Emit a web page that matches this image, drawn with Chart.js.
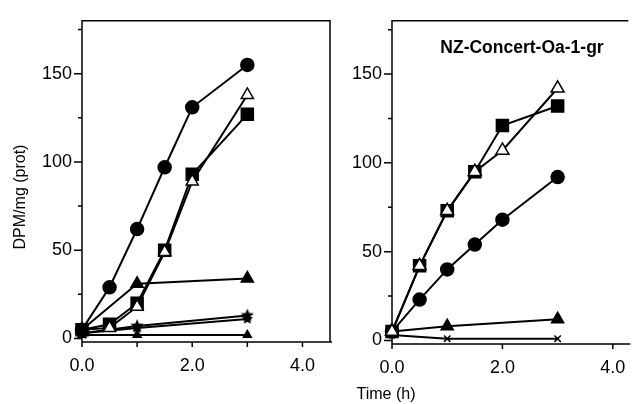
<!DOCTYPE html>
<html>
<head>
<meta charset="utf-8">
<script src="https://cdn.jsdelivr.net/npm/chart.js@4"></script>
<style>
  body { margin: 0; background: #fff; }
  #wrap { position: relative; width: 639px; height: 404px; overflow: hidden; background: #fff; }
  canvas { position: absolute; top: 0; }
  #leftChart { left: 0; }
  #rightChart { left: 340px; }
  .lbl { position: absolute; font-family: "Liberation Sans", Arial, sans-serif; color: #000; white-space: nowrap; }
  #yTitle { left: -80px; top: 187px; width: 200px; height: 20px; line-height: 20px; text-align: center; font-size: 16px; transform: rotate(-90deg); }
  #xTitle { left: 326px; top: 385px; width: 120px; text-align: center; font-size: 16px; }
  #panelTitle { left: 422px; top: 37px; width: 200px; text-align: center; font-size: 17.5px; font-weight: bold; }
</style>
</head>
<body>
<div id="wrap">
  <canvas id="leftChart" width="340" height="404"></canvas>
  <canvas id="rightChart" width="299" height="404"></canvas>
  <div class="lbl" id="yTitle">DPM/mg (prot)</div>
  <div class="lbl" id="xTitle">Time (h)</div>
  <div class="lbl" id="panelTitle">NZ-Concert-Oa-1-gr</div>
</div>
<script>
// sampling times (h)
const timesFull = [0, 0.5, 1, 1.5, 2, 3];
const timesShort = [0, 1, 3];

// left panel series
const leftCircle = [5, 29, 62, 97, 131, 155];
const leftOpenTri = [5, 6, 18, 49, 89, 138];
const leftSquare = [5, 8, 20, 50, 93, 127];
const leftTri = [5, 31, 34];
const leftStarA = [3, 7, 13];
const leftStarB = [3, 6, 11];
const leftSmallTri = [2, 2, 2];

// right panel series (NZ-Concert-Oa-1-gr)
const rightSquare = [5, 42, 73, 95, 121, 132];
const rightOpenTri = [5, 42, 73, 95, 107, 142];
const rightCircle = [5, 23, 40, 54, 68, 92];
const rightTri = [5, 8, 12];
const rightCross = [3, 1, 1];

// axis ticks
const yLabelTicks = [0, 50, 100, 150];
const yMinorTicks = [25, 75, 125, 175];
const xLabelTicks = [0, 2, 4];
const leftXMarks = [0, 1, 2, 3, 4];
const rightXMarks = [0, 2, 4];

const tickFont = { family: "Liberation Sans, Arial, sans-serif", size: 18 };

// filled 5-point star as point image
function starImage(r) {
  const s = Math.ceil(r * 2 + 2);
  const c = document.createElement("canvas");
  c.width = c.height = s;
  const g = c.getContext("2d");
  g.beginPath();
  for (let i = 0; i < 10; i++) {
    const a = -Math.PI / 2 + i * Math.PI / 5;
    const rr = i % 2 ? r * 0.45 : r;
    g.lineTo(s / 2 + rr * Math.cos(a), s / 2 + rr * Math.sin(a));
  }
  g.closePath();
  g.fillStyle = "#000";
  g.fill();
  return c;
}

function series(xs, ys, style, radius, fill) {
  return {
    data: xs.map((x, i) => ({ x: x, y: ys[i] })),
    borderColor: "#000",
    borderWidth: 2,
    tension: 0,
    fill: false,
    clip: false,
    pointStyle: style,
    pointRadius: radius,
    pointBackgroundColor: fill,
    pointBorderColor: "#000",
    pointBorderWidth: 1.5
  };
}

// draws axis lines, box edges and tick marks
const framePlugin = {
  id: "frame",
  beforeDatasetsDraw(chart, args, opts) {
    const { ctx, chartArea: a, scales } = chart;
    const x = scales.x, y = scales.y;
    ctx.save();
    ctx.strokeStyle = "#000";
    ctx.lineWidth = 1.5;
    ctx.beginPath();
    ctx.moveTo(a.left, a.bottom);
    ctx.lineTo(a.left, a.top);
    ctx.lineTo(a.right, a.top);
    if (opts.rightEdge) ctx.lineTo(a.right, a.bottom);
    ctx.moveTo(a.left, a.bottom);
    ctx.lineTo(a.right + 2, a.bottom);
    yLabelTicks.forEach(v => {
      const py = y.getPixelForValue(v);
      ctx.moveTo(a.left - 8, py);
      ctx.lineTo(a.left, py);
    });
    yMinorTicks.forEach(v => {
      const py = y.getPixelForValue(v);
      ctx.moveTo(a.left - 4, py);
      ctx.lineTo(a.left, py);
    });
    opts.xMarks.forEach(v => {
      const px = x.getPixelForValue(v);
      ctx.moveTo(px, a.bottom);
      ctx.lineTo(px, a.bottom + 5);
    });
    ctx.stroke();
    ctx.restore();
  }
};

function makeChart(id, datasets, cfg) {
  return new Chart(document.getElementById(id), {
    type: "line",
    data: { datasets: datasets },
    options: {
      responsive: false,
      animation: false,
      devicePixelRatio: 1,
      layout: { padding: { top: cfg.top, right: cfg.right, left: 0, bottom: 0 } },
      plugins: {
        legend: { display: false },
        tooltip: { enabled: false },
        frame: { rightEdge: cfg.rightEdge, xMarks: cfg.xMarks }
      },
      scales: {
        x: {
          type: "linear",
          min: 0,
          max: cfg.xMax,
          grid: { display: false, drawTicks: false },
          border: { display: false },
          afterBuildTicks: s => { s.ticks = xLabelTicks.map(v => ({ value: v })); },
          afterFit: s => { s.height = cfg.xHeight; },
          ticks: { font: tickFont, color: "#000", padding: 13, maxRotation: 0, callback: v => v.toFixed(1) }
        },
        y: {
          min: -2,
          max: 180,
          grid: { display: false, drawTicks: false },
          border: { display: false },
          afterBuildTicks: s => { s.ticks = yLabelTicks.map(v => ({ value: v })); },
          afterFit: s => { s.width = cfg.yWidth; },
          ticks: { font: tickFont, color: "#000", padding: 10, callback: v => String(v) }
        }
      }
    },
    plugins: [framePlugin]
  });
}

const star = starImage(7);
const smallStar = starImage(6);

makeChart("leftChart", [
  series(timesFull, leftCircle, "circle", 6.5, "#000"),
  series(timesFull, leftOpenTri, "triangle", 7, "#fff"),
  series(timesFull, leftSquare, "rect", 8.5, "#000"),
  series(timesShort, leftTri, "triangle", 7, "#000"),
  series(timesShort, leftStarA, star, 7, "#000"),
  series(timesShort, leftStarB, smallStar, 6, "#000"),
  series(timesShort, leftSmallTri, "triangle", 4.5, "#000")
], { top: 13, right: 8, xMax: 4.5, xHeight: 62, yWidth: 82, rightEdge: true, xMarks: leftXMarks });

makeChart("rightChart", [
  series(timesFull, rightOpenTri, "triangle", 7.5, "#fff"),
  series(timesFull, rightSquare, "rect", 8.5, "#000"),
  series(timesFull, rightCircle, "circle", 6.5, "#000"),
  series(timesShort, rightTri, "triangle", 7, "#000"),
  series(timesShort, rightCross, "crossRot", 4.5, "#000")
], { top: 15, right: 0, xMax: 4.28, xHeight: 60, yWidth: 52, rightEdge: false, xMarks: rightXMarks });
</script>
</body>
</html>
